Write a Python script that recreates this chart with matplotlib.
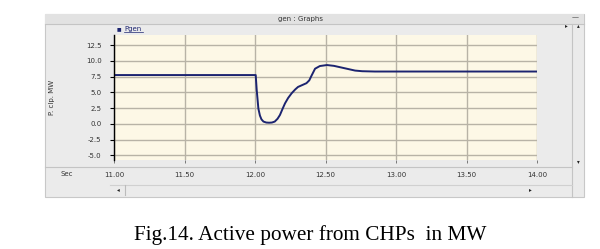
import matplotlib
matplotlib.use("Agg")
import matplotlib.pyplot as plt
from matplotlib.patches import Rectangle
from matplotlib.lines import Line2D

# ---- data ----
time_s = [11.00, 11.50, 12.00, 12.005, 12.012, 12.024, 12.035, 12.046, 12.06, 12.08,
          12.10, 12.12, 12.14, 12.16, 12.177, 12.195, 12.213, 12.235, 12.26, 12.285,
          12.305, 12.34, 12.365, 12.385, 12.40, 12.426, 12.46, 12.51,
          12.56, 12.64, 12.71, 12.76, 12.85, 13.00, 13.50, 14.00]
p_gen = [7.74, 7.74, 7.74, 7.74, 5.4, 2.4, 1.3, 0.7, 0.35, 0.2,
         0.17, 0.2, 0.35, 0.8, 1.4, 2.35, 3.25, 4.1, 4.85, 5.45,
         5.85, 6.2, 6.45, 6.9, 7.6, 8.75, 9.17, 9.33,
         9.2, 8.8, 8.45, 8.35, 8.3, 8.3, 8.3, 8.3]
x_ticks = [11.0, 11.5, 12.0, 12.5, 13.0, 13.5, 14.0]
x_tick_labels = ["11.00", "11.50", "12.00", "12.50", "13.00", "13.50", "14.00"]
y_ticks = [-5.0, -2.5, 0.0, 2.5, 5.0, 7.5, 10.0, 12.5]
y_tick_labels = ["-5.0", "-2.5", "0.0", "2.5", "5.0", "7.5", "10.0", "12.5"]
series_name = "Pgen"

W, H = 600, 249
fig = plt.figure(figsize=(W / 100, H / 100), dpi=100)
fig.patch.set_facecolor("white")

def px_rect(x0, y0, x1, y1, **kw):
    r = Rectangle((x0 / W, 1 - y1 / H), (x1 - x0) / W, (y1 - y0) / H,
                  transform=fig.transFigure, zorder=-10, **kw)
    fig.patches.append(r)

def px_line(xs, ys, **kw):
    fig.lines.append(Line2D([x / W for x in xs], [1 - y / H for y in ys],
                            transform=fig.transFigure, zorder=-5, **kw))

def px_text(x, y, s, **kw):
    fig.text(x / W, 1 - y / H, s, **kw)

# window panel
px_rect(45, 14, 584, 197, facecolor="#ebebeb", edgecolor="#c8c8c8", lw=0.8)
px_rect(45, 14, 584, 24, facecolor="#e2e2e2", edgecolor="none")
px_line([45, 584], [24, 24], color="#c4c4c4", lw=0.8)
px_text(300, 18.5, "gen : Graphs", fontsize=5, color="#333333", ha="center", va="center")
px_text(575, 17, "—", fontsize=5, color="#333333", ha="center", va="center")
# vertical scrollbar
px_line([572, 572], [24, 197], color="#c4c4c4", lw=0.8)
px_text(566, 25.5, "▸", fontsize=4, color="#222222", ha="center", va="center")
px_text(578, 25.5, "▴", fontsize=4, color="#222222", ha="center", va="center")
px_text(578, 162, "▾", fontsize=4, color="#222222", ha="center", va="center")
# x-strip separator and horizontal scrollbar
px_line([45, 572], [167, 167], color="#c4c4c4", lw=0.8)
px_line([110, 572], [185, 185], color="#d0d0d0", lw=0.8)
px_line([125, 125], [185, 195], color="#bbbbbb", lw=0.8)
px_text(118, 190, "◂", fontsize=4, color="#222222", ha="center", va="center")
px_text(530, 190, "▸", fontsize=4, color="#222222", ha="center", va="center")

# plot axes
L, T, R, B = 114, 35, 537, 160
ax = fig.add_axes([L / W, 1 - B / H, (R - L) / W, (B - T) / H])
ax.set_zorder(5)
ax.set_facecolor("#fdf8e6")
ax.plot(time_s, p_gen, color="#1c2470", lw=1.4)
ax.set_xlim(11.0, 14.0)
ax.set_ylim(-5.75, 14.1)
ax.set_xticks(x_ticks)
ax.set_xticklabels(x_tick_labels)
ax.set_yticks(y_ticks)
ax.set_yticklabels(y_tick_labels)
ax.grid(True, color="#b8b3a6", lw=1.0)
ax.set_axisbelow(True)
for s in ["top", "right", "bottom"]:
    ax.spines[s].set_visible(False)
ax.spines["left"].set_color("black")
ax.spines["left"].set_linewidth(1.0)
ax.tick_params(axis="y", length=3, width=0.8, color="black", labelsize=5,
               labelcolor="#333333", pad=6)
ax.tick_params(axis="x", length=2, width=0.6, color="#666666", labelsize=5,
               labelcolor="#333333", pad=6.5)
ax.set_ylabel("P. clp. MW", fontsize=5, color="#333333", labelpad=22)

px_text(67, 174, "Sec", fontsize=5, color="#333333", ha="center", va="center")
px_text(117, 29, "■", fontsize=3.5, color="#1c2470", ha="left", va="center")
px_text(124, 29, series_name, fontsize=5, color="#1c2470", ha="left", va="center")
px_line([124, 143], [32, 32], color="#1c2470", lw=0.5)

# caption
px_text(310, 235, "Fig.14. Active power from CHPs  in MW", fontsize=15.3,
        family="Liberation Serif", color="black", ha="center", va="center")

fig.savefig("out.png", dpi=100)
